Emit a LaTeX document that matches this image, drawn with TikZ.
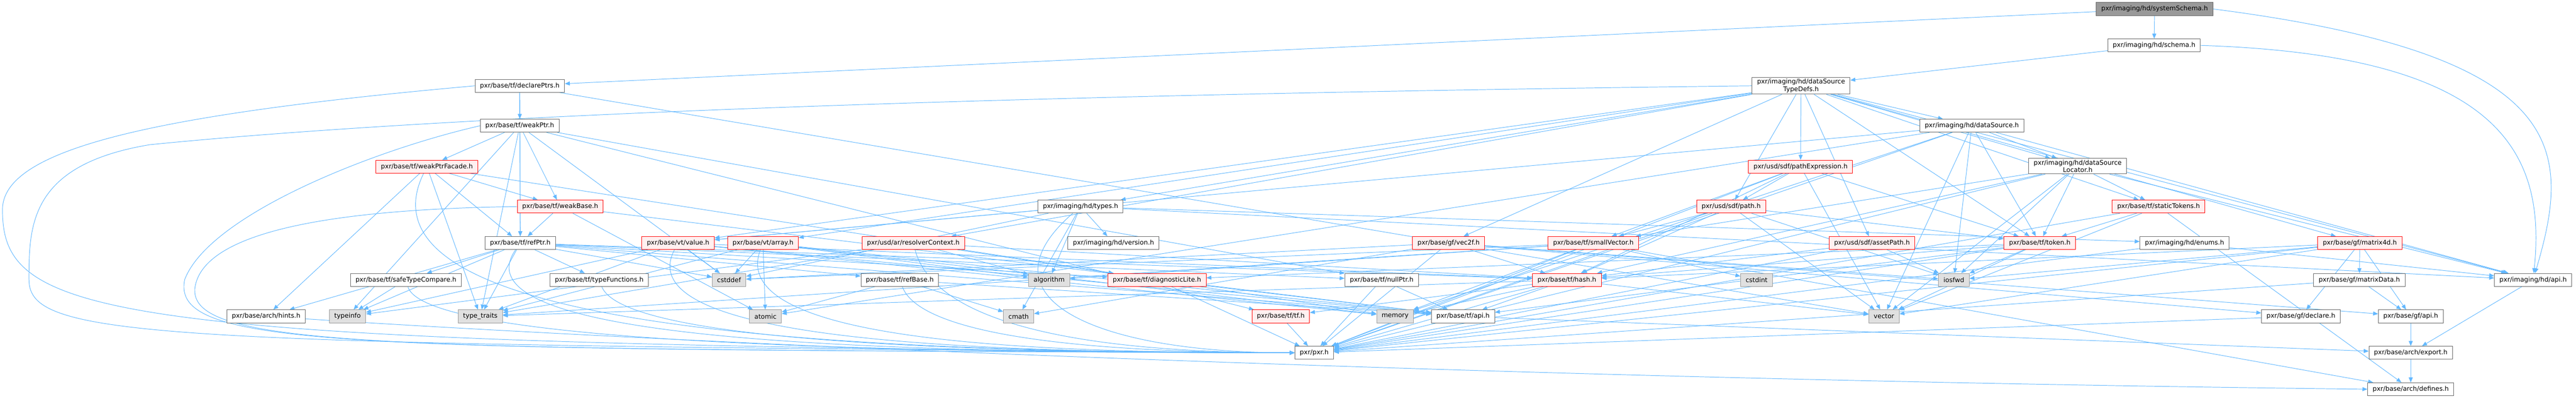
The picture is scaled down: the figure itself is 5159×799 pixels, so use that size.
\documentclass[tikz,border=0pt]{standalone}
\usepackage{fontspec}
\setmainfont{DejaVu Sans}
\usepackage{tikz}
\usetikzlibrary{arrows.meta}
\usetikzlibrary{calc, shapes, backgrounds}
\definecolor{edgeblue}{HTML}{63B8FF}
\definecolor{hdrline}{HTML}{666666}
\definecolor{truncfill}{HTML}{FFF0F0}
\definecolor{sysfill}{HTML}{E0E0E0}
\definecolor{sysline}{HTML}{999999}
\tikzstyle{hdr} = [rectangle, minimum height=26pt, inner xsep=10pt, inner ysep=3pt, text centered, draw=hdrline, fill=white, line width=1pt]
\tikzstyle{trunc} = [hdr, draw=red, fill=truncfill]
\tikzstyle{sys} = [hdr, draw=sysline, fill=sysfill]
\tikzstyle{root} = [hdr, draw=hdrline, fill=sysline]
\tikzstyle{arrow} = [line width=1pt, draw=edgeblue, -{Stealth[length=10pt, width=8pt, inset=0pt]}]

\begin{document}
\begin{tikzpicture}[x=1pt, y=-1pt, font=\fontsize{12.9}{15}\selectfont]
			\useasboundingbox (0,0) rectangle (5159,799);
			\node(sysschema)[root] at (4315,18) {pxr/imaging/hd/systemSchema.h};
			\node(schema)[hdr] at (4314,91) {pxr/imaging/hd/schema.h};
			\node(declptrs)[hdr] at (1041,172) {pxr/base/tf/declarePtrs.h};
			\node(typedefs)[hdr, align=center] at (3607,172) {pxr/imaging/hd/dataSource\\TypeDefs.h};
			\node(weakptr)[hdr] at (1041,252) {pxr/base/tf/weakPtr.h};
			\node(datasrc)[hdr] at (3949,252) {pxr/imaging/hd/dataSource.h};
			\node(weakfacade)[trunc] at (855,334) {pxr/base/tf/weakPtrFacade.h};
			\node(pathexpr)[trunc] at (3606,334) {pxr/usd/sdf/pathExpression.h};
			\node(locator)[hdr, align=center] at (4161,333) {pxr/imaging/hd/dataSource\\Locator.h};
			\node(weakbase)[trunc] at (1122,414) {pxr/base/tf/weakBase.h};
			\node(types)[hdr] at (2164,414) {pxr/imaging/hd/types.h};
			\node(sdfpath)[trunc] at (3467,414) {pxr/usd/sdf/path.h};
			\node(statictok)[trunc] at (4323,414) {pxr/base/tf/staticTokens.h};
			\node(refptr)[hdr] at (1042,487) {pxr/base/tf/refPtr.h};
			\node(vtvalue)[trunc] at (1358,487) {pxr/base/vt/value.h};
			\node(vtarray)[trunc] at (1528,487) {pxr/base/vt/array.h};
			\node(resolver)[trunc] at (1829,487) {pxr/usd/ar/resolverContext.h};
			\node(version)[hdr] at (2230,487) {pxr/imaging/hd/version.h};
			\node(vec2f)[trunc] at (2901,487) {pxr/base/gf/vec2f.h};
			\node(smallvec)[trunc] at (3191,487) {pxr/base/tf/smallVector.h};
			\node(assetpath)[trunc] at (3749,487) {pxr/usd/sdf/assetPath.h};
			\node(token)[trunc] at (4085,487) {pxr/base/tf/token.h};
			\node(enums)[hdr] at (4375,487) {pxr/imaging/hd/enums.h};
			\node(matrix4d)[trunc] at (4726,487) {pxr/base/gf/matrix4d.h};
			\node(safecmp)[hdr] at (813,561) {pxr/base/tf/safeTypeCompare.h};
			\node(typefuncs)[hdr] at (1200,561) {pxr/base/tf/typeFunctions.h};
			\node(cstddef)[sys] at (1460,561) {cstddef};
			\node(refbase)[hdr] at (1802,561) {pxr/base/tf/refBase.h};
			\node(algorithm)[sys] at (2101,561) {algorithm};
			\node(diaglite)[trunc] at (2317,561) {pxr/base/tf/diagnosticLite.h};
			\node(nullptr)[hdr] at (2767,561) {pxr/base/tf/nullPtr.h};
			\node(hash)[trunc] at (3138,561) {pxr/base/tf/hash.h};
			\node(cstdint)[sys] at (3518,561) {cstdint};
			\node(iosfwd)[sys] at (3913,561) {iosfwd};
			\node(matrixdata)[hdr] at (4725,561) {pxr/base/gf/matrixData.h};
			\node(hdapi)[hdr] at (5073,561) {pxr/imaging/hd/api.h};
			\node(hints)[hdr] at (533,634) {pxr/base/arch/hints.h};
			\node(typeinfo)[sys] at (696,634) {typeinfo};
			\node(typetraits)[sys] at (962,634) {type\_traits};
			\node(atomic)[sys] at (1533,634) {atomic};
			\node(cmath)[sys] at (2040,634) {cmath};
			\node(tfh)[trunc] at (2565,634) {pxr/base/tf/tf.h};
			\node(memory)[sys] at (2794,634) {memory};
			\node(tfapi)[hdr] at (2930,634) {pxr/base/tf/api.h};
			\node(vector)[sys] at (3773,634) {vector};
			\node(gfdeclare)[hdr] at (4608,634) {pxr/base/gf/declare.h};
			\node(gfapi)[hdr] at (4828,634) {pxr/base/gf/api.h};
			\node(pxrh)[hdr] at (2632,707) {pxr/pxr.h};
			\node(export)[hdr] at (4828,707) {pxr/base/arch/export.h};
			\node(defines)[hdr] at (4828,780) {pxr/base/arch/defines.h};

			\begin{scope}[on background layer]
			% Top of the graph
			\draw [arrow] (sysschema) -- (declptrs);
			\draw [arrow] (sysschema) -- (schema);
			\draw [arrow] (sysschema.east) .. controls (5150,110) and (5150,300) .. (hdapi);
			\draw [arrow] (schema) -- (typedefs);
			\draw [arrow] (schema.east) .. controls (5000,110) and (5100,300) .. (hdapi);
			\draw [arrow] (declptrs) -- (weakptr);
			\draw [arrow] (declptrs) -- (refptr);
			\draw [arrow] (declptrs) -- (vector);
			\draw [arrow] (declptrs.west) .. controls (300,230) and (5,300) .. (5,420) .. controls (5,640) and (200,690) .. (pxrh.west);
			\draw [arrow] (typedefs) -- (datasrc);
			\draw [arrow] (typedefs) -- (locator);
			\draw [arrow] (typedefs) -- (pathexpr);
			\draw [arrow] (typedefs) -- (sdfpath);
			\draw [arrow] (typedefs) -- (assetpath);
			\draw [arrow] (typedefs) -- (vec2f);
			\draw [arrow] (typedefs) -- (matrix4d);
			\draw [arrow] (typedefs) -- (token);
			\draw [arrow] (typedefs) -- (statictok);
			\draw [arrow] (typedefs) -- (vtarray);
			\draw [arrow] (typedefs) -- (vtvalue);
			\draw [arrow] (typedefs) -- (resolver);
			\draw [arrow] (typedefs) -- (types);
			\draw [arrow] (typedefs) -- (hdapi);
			\draw [arrow] (typedefs.west) .. controls (2000,190) and (900,230) .. (300,290) .. controls (60,330) and (58,450) .. (58,560) .. controls (58,680) and (300,690) .. (pxrh.west);
			\draw [arrow] (weakptr) -- (weakfacade);
			\draw [arrow] (weakptr) -- (refptr);
			\draw [arrow] (weakptr) -- (weakbase);
			\draw [arrow] (weakptr) -- (nullptr);
			\draw [arrow] (weakptr) -- (tfh);
			\draw [arrow] (weakptr) -- (cstddef);
			\draw [arrow] (weakptr) -- (typetraits);
			\draw [arrow] (weakptr) -- (typeinfo);
			\draw [arrow] (weakptr.west) .. controls (750,300) and (420,430) .. (370,560) .. controls (340,700) and (700,700) .. (pxrh.west);
			\draw [arrow] (datasrc) -- (locator);
			\draw [arrow] (datasrc) -- (hdapi);
			\draw [arrow] (datasrc) -- (token);
			\draw [arrow] (datasrc) -- (vtvalue);
			\draw [arrow] (datasrc) -- (iosfwd);
			\draw [arrow] (datasrc) -- (memory);
			\draw [arrow] (datasrc) -- (vector);
			\draw [arrow] (datasrc) -- (atomic);
			\draw [arrow] (datasrc) -- (pxrh);

			% Middle rows
			\draw [arrow] (weakfacade) -- (refptr);
			\draw [arrow] (weakfacade) -- (weakbase);
			\draw [arrow] (weakfacade) -- (diaglite);
			\draw [arrow] (weakfacade) -- (hints);
			\draw [arrow] (weakfacade) -- (typetraits);
			\draw [arrow] (weakfacade) .. controls (700,650) and (1600,707) .. (pxrh.west);
			\draw [arrow] (pathexpr) -- (sdfpath);
			\draw [arrow] (pathexpr) -- (smallvec);
			\draw [arrow] (pathexpr) -- (hash);
			\draw [arrow] (pathexpr) -- (token);
			\draw [arrow] (pathexpr) -- (vector);
			\draw [arrow] (pathexpr) -- (pxrh);
			\draw [arrow] (locator) -- (statictok);
			\draw [arrow] (locator) -- (token);
			\draw [arrow] (locator) -- (smallvec);
			\draw [arrow] (locator) -- (hash);
			\draw [arrow] (locator) -- (iosfwd);
			\draw [arrow] (locator) -- (vector);
			\draw [arrow] (locator) -- (hdapi);
			\draw [arrow] (locator) -- (pxrh);
			\draw [arrow] (weakbase) -- (refptr);
			\draw [arrow] (weakbase) -- (tfapi);
			\draw [arrow] (weakbase) -- (atomic);
			\draw [arrow] (weakbase.west) .. controls (600,420) and (400,480) .. (390,580) .. controls (385,700) and (800,700) .. (pxrh.west);
			\draw [arrow] (types) -- (vtvalue);
			\draw [arrow] (types) -- (cstddef);
			\draw [arrow] (types) -- (algorithm);
			\draw [arrow] (types) -- (cmath);
			\draw [arrow] (types) -- (version);
			\draw [arrow] (types) -- (enums);
			\draw [arrow] (types) -- (hdapi);
			\draw [arrow] (types) .. controls (1950,600) and (2200,707) .. (pxrh.west);
			\draw [arrow] (sdfpath) -- (smallvec);
			\draw [arrow] (sdfpath) -- (token);
			\draw [arrow] (sdfpath) -- (hash);
			\draw [arrow] (sdfpath) -- (iosfwd);
			\draw [arrow] (sdfpath) -- (vector);
			\draw [arrow] (sdfpath) -- (pxrh);
			\draw [arrow] (statictok) -- (token);
			\draw [arrow] (statictok) -- (vector);
			\draw [arrow] (statictok) -- (defines);
			\draw [arrow] (statictok) -- (pxrh);
			\draw [arrow] (refptr) -- (safecmp);
			\draw [arrow] (refptr) -- (typefuncs);
			\draw [arrow] (refptr) -- (hints);
			\draw [arrow] (refptr) -- (typeinfo);
			\draw [arrow] (refptr) -- (typetraits);
			\draw [arrow] (refptr) -- (cstddef);
			\draw [arrow] (refptr) -- (refbase);
			\draw [arrow] (refptr) -- (diaglite);
			\draw [arrow] (refptr) -- (nullptr);
			\draw [arrow] (refptr) -- (hash);
			\draw [arrow] (refptr) -- (tfapi);
			\draw [arrow] (refptr) .. controls (900,690) and (1800,707) .. (pxrh.west);
			\draw [arrow] (vtvalue) -- (cstddef);
			\draw [arrow] (vtvalue) -- (hash);
			\draw [arrow] (vtvalue) -- (typeinfo);
			\draw [arrow] (vtvalue) -- (typetraits);
			\draw [arrow] (vtvalue) -- (memory);
			\draw [arrow] (vtvalue) -- (tfapi);
			\draw [arrow] (vtvalue) .. controls (1250,690) and (2000,707) .. (pxrh.west);
			\draw [arrow] (vtarray) -- (cstddef);
			\draw [arrow] (vtarray) -- (atomic);
			\draw [arrow] (vtarray) -- (algorithm);
			\draw [arrow] (vtarray) -- (memory);
			\draw [arrow] (vtarray) -- (typetraits);
			\draw [arrow] (vtarray) -- (tfapi);
			\draw [arrow] (vtarray) .. controls (1450,690) and (2100,707) .. (pxrh.west);
			\draw [arrow] (resolver) -- (algorithm);
			\draw [arrow] (resolver) -- (hash);
			\draw [arrow] (resolver) -- (memory);
			\draw [arrow] (resolver) -- (typeinfo);
			\draw [arrow] (resolver) -- (typetraits);
			\draw [arrow] (resolver) .. controls (1880,680) and (2300,707) .. (pxrh.west);
			\draw [arrow] (vec2f) -- (gfapi);
			\draw [arrow] (vec2f) -- (gfdeclare);
			\draw [arrow] (vec2f) -- (hash);
			\draw [arrow] (vec2f) -- (cstddef);
			\draw [arrow] (vec2f) -- (cmath);
			\draw [arrow] (vec2f) -- (iosfwd);
			\draw [arrow] (vec2f) -- (pxrh);
			\draw [arrow] (smallvec) -- (algorithm);
			\draw [arrow] (smallvec) -- (cstddef);
			\draw [arrow] (smallvec) -- (cstdint);
			\draw [arrow] (smallvec) -- (memory);
			\draw [arrow] (smallvec) -- (typetraits);
			\draw [arrow] (smallvec) -- (defines);
			\draw [arrow] (smallvec) -- (pxrh);
			\draw [arrow] (assetpath) -- (hash);
			\draw [arrow] (assetpath) -- (iosfwd);
			\draw [arrow] (assetpath) -- (pxrh);
			\draw [arrow] (token) -- (diaglite);
			\draw [arrow] (token) -- (hash);
			\draw [arrow] (token) -- (tfapi);
			\draw [arrow] (token) -- (iosfwd);
			\draw [arrow] (token) -- (vector);
			\draw [arrow] (token) -- (pxrh);
			\draw [arrow] (enums) -- (hdapi);
			\draw [arrow] (enums) -- (pxrh);
			\draw [arrow] (matrix4d) -- (matrixdata);
			\draw [arrow] (matrix4d) -- (gfapi);
			\draw [arrow] (matrix4d) -- (gfdeclare);
			\draw [arrow] (matrix4d) -- (hash);
			\draw [arrow] (matrix4d) -- (iosfwd);
			\draw [arrow] (matrix4d) -- (vector);
			\draw [arrow] (matrix4d) -- (pxrh);

			% Lower rows
			\draw [arrow] (safecmp) -- (typeinfo);
			\draw [arrow] (safecmp) .. controls (850,690) and (1800,707) .. (pxrh.west);
			\draw [arrow] (typefuncs) .. controls (1250,690) and (2000,707) .. (pxrh.west);
			\draw [arrow] (refbase) -- (atomic);
			\draw [arrow] (refbase) -- (cmath);
			\draw [arrow] (refbase) -- (tfapi);
			\draw [arrow] (refbase) .. controls (1850,690) and (2300,707) .. (pxrh.west);
			\draw [arrow] (diaglite) -- (tfapi);
			\draw [arrow] (diaglite) -- (pxrh);
			\draw [arrow] (nullptr) -- (tfapi);
			\draw [arrow] (nullptr) -- (pxrh);
			\draw [arrow] (hash) -- (memory);
			\draw [arrow] (hash) -- (typetraits);
			\draw [arrow] (hash) -- (vector);
			\draw [arrow] (hash) -- (tfapi);
			\draw [arrow] (hash) -- (tfh);
			\draw [arrow] (hash) -- (pxrh);
			\draw [arrow] (matrixdata) -- (gfapi);
			\draw [arrow] (matrixdata) -- (pxrh);
			\draw [arrow] (hdapi) -- (export);
			\draw [arrow] (hints) .. controls (1400,690) and (3000,760) .. (defines.west);
			\draw [arrow] (tfh) -- (pxrh);
			\draw [arrow] (tfapi) -- (export);
			\draw [arrow] (gfdeclare) -- (pxrh);
			\draw [arrow] (gfapi) -- (export);
			\draw [arrow] (export) -- (defines);
			\end{scope}
		\end{tikzpicture}
\end{document}
